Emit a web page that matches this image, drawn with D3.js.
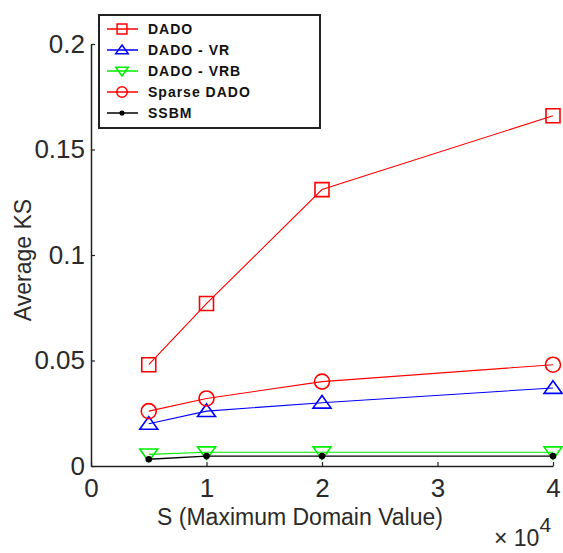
<!DOCTYPE html>
<html>
<head>
<meta charset="utf-8">
<script src="https://cdn.jsdelivr.net/npm/d3@7.9.0/dist/d3.min.js"></script>
<style>
  html, body { margin: 0; padding: 0; background: #fff; }
  svg { display: block; }
  .tick-label { font-family: "Liberation Sans", Arial, sans-serif; fill: #2a2a2a; }
  .legend-text { font-family: "Liberation Sans", Arial, sans-serif; font-weight: bold; font-size: 14px; letter-spacing: 1px; fill: #111; }
</style>
</head>
<body>
<svg id="chart" width="563" height="553"></svg>
<script>
// values (x in units of 10^4)
const sValues = [0.5, 1, 2, 4];
const dado = [0.048, 0.077, 0.131, 0.166];
const dadoVR = [0.020, 0.026, 0.030, 0.037];
const dadoVRB = [0.0055, 0.0065, 0.0065, 0.0065];
const sparseDado = [0.026, 0.032, 0.040, 0.048];
const ssbm = [0.0032, 0.0047, 0.0047, 0.0047];

const xTicks = [0, 1, 2, 3, 4];
const xTickLabels = ['0', '1', '2', '3', '4'];
const yTicks = [0, 0.05, 0.1, 0.15, 0.2];
const yTickLabels = ['0', '0.05', '0.1', '0.15', '0.2'];

const seriesNames = ['DADO', 'DADO - VR', 'DADO - VRB', 'Sparse DADO', 'SSBM'];

const svg = d3.select('#chart');

const x = d3.scaleLinear().domain([0, 4]).range([91, 553]);
const y = d3.scaleLinear().domain([0, 0.2]).range([466, 44]);

// marker shapes, drawn around (0,0)
const markers = {
  square: (s) => `M${-s},${-s}H${s}V${s}H${-s}Z`,
  circle: (s) => `M${-s},0A${s},${s} 0 1,0 ${s},0A${s},${s} 0 1,0 ${-s},0Z`,
  up: (s) => `M0,${-s * 0.8}L${s},${s * 0.6}H${-s}Z`,
  down: (s) => `M0,${s * 0.8}L${s},${-s * 0.6}H${-s}Z`,
  dot: (s) => `M${-s},0A${s},${s} 0 1,0 ${s},0A${s},${s} 0 1,0 ${-s},0Z`
};

let series = [
  { name: seriesNames[0], values: dado, color: '#ff0000', marker: 'square', size: 7 },
  { name: seriesNames[1], values: dadoVR, color: '#0000ff', marker: 'up', size: 9 },
  { name: seriesNames[2], values: dadoVRB, color: '#00ee00', marker: 'down', size: 9 },
  { name: seriesNames[3], values: sparseDado, color: '#ff0000', marker: 'circle', size: 7.5 },
  { name: seriesNames[4], values: ssbm, color: '#000000', marker: 'dot', size: 2.5 }
];

// axes (ticks pointing inward like matlab)
let xAxis = d3.axisBottom(x).tickValues(xTicks).tickFormat((d, i) => xTickLabels[i])
  .tickSizeInner(-4).tickSizeOuter(0);
let yAxis = d3.axisLeft(y).tickValues(yTicks).tickFormat((d, i) => yTickLabels[i])
  .tickSizeInner(-4).tickSizeOuter(0).tickPadding(6);

let gx = svg.append('g').attr('transform', `translate(0,${y(0)})`).call(xAxis);
let gy = svg.append('g').attr('transform', `translate(${x(0)},0)`).call(yAxis);

[gx, gy].forEach((g) => {
  g.select('.domain').attr('stroke', '#222').attr('stroke-width', 1.5);
  g.selectAll('.tick line').attr('stroke', '#222').attr('stroke-width', 1.2);
  g.selectAll('.tick text')
    .attr('class', 'tick-label')
    .attr('font-size', 26)
    .attr('fill', '#2a2a2a');
});
gx.selectAll('.tick text').attr('dy', '0.71em').attr('y', 13);

const line = d3.line()
  .x((d) => x(d[0]))
  .y((d) => y(d[1]));

const plot = svg.append('g');
series.forEach((s) => {
  let pts = sValues.map((v, i) => [v, s.values[i]]);
  plot.append('path')
    .attr('d', line(pts))
    .attr('fill', 'none')
    .attr('stroke', s.color)
    .attr('stroke-width', s.marker === 'dot' ? 1.3 : 1.1);
  plot.selectAll(null)
    .data(pts)
    .enter()
    .append('path')
    .attr('transform', (d) => `translate(${x(d[0])},${y(d[1])})`)
    .attr('d', markers[s.marker](s.size))
    .attr('fill', s.marker === 'dot' ? s.color : 'none')
    .attr('stroke', s.color)
    .attr('stroke-width', 1.6);
});

// axis titles
svg.append('text')
  .attr('class', 'tick-label')
  .attr('x', 300).attr('y', 525)
  .attr('text-anchor', 'middle')
  .attr('font-size', 23)
  .text('S (Maximum Domain Value)');

svg.append('text')
  .attr('class', 'tick-label')
  .attr('transform', 'translate(31,260) rotate(-90)')
  .attr('text-anchor', 'middle')
  .attr('font-size', 23)
  .text('Average KS');

let expo = svg.append('text')
  .attr('class', 'tick-label')
  .attr('x', 494).attr('y', 546)
  .attr('font-size', 23);
expo.append('tspan').text('\u00d7 10');
expo.append('tspan').attr('dy', -14).attr('font-size', 21).text('4');

// legend
let legend = svg.append('g');
legend.append('rect')
  .attr('x', 99).attr('y', 15)
  .attr('width', 221).attr('height', 113)
  .attr('fill', '#fff')
  .attr('stroke', '#222')
  .attr('stroke-width', 2);

series.forEach((s, i) => {
  let ly = 29 + i * 21;
  let row = legend.append('g').attr('transform', `translate(0,${ly})`);
  row.append('line')
    .attr('x1', 107).attr('x2', 138)
    .attr('stroke', s.color)
    .attr('stroke-width', 1.5);
  row.append('path')
    .attr('transform', 'translate(122,0)')
    .attr('d', markers[s.marker](s.marker === 'dot' ? 1.8 : s.size * 0.7))
    .attr('fill', s.marker === 'dot' ? s.color : 'none')
    .attr('stroke', s.color)
    .attr('stroke-width', 1.5);
  row.append('text')
    .attr('class', 'legend-text')
    .attr('x', 148).attr('y', 5)
    .text(s.name);
});
</script>
</body>
</html>
